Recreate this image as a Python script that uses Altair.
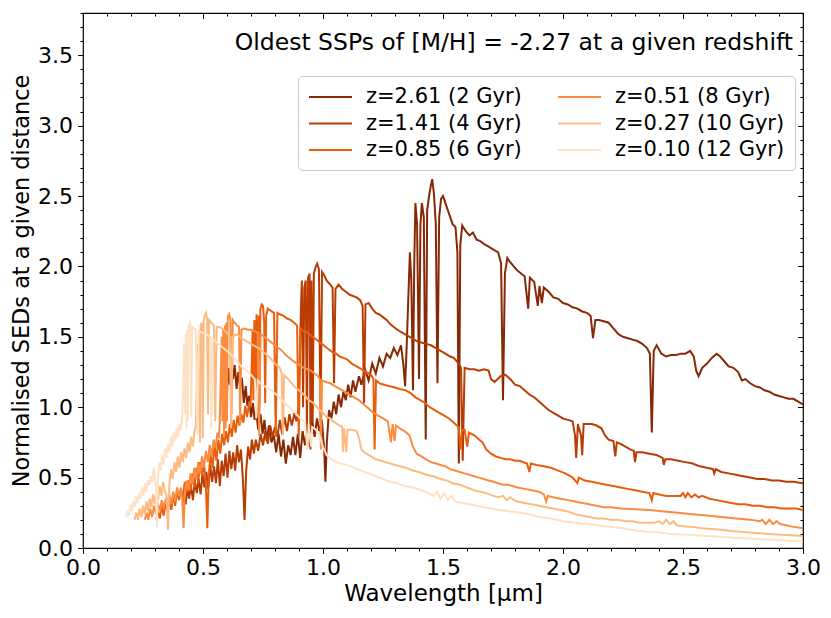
import altair as alt
import pandas as pd

# ---------------- data ----------------
LABELS = ["z=2.61 (2 Gyr)", "z=1.41 (4 Gyr)", "z=0.85 (6 Gyr)",
          "z=0.51 (8 Gyr)", "z=0.27 (10 Gyr)", "z=0.10 (12 Gyr)"]
COLORS = ["#862904", "#b93d02", "#e95e0d", "#fa8c41", "#fdbb81", "#fee2c5"]

LAM_261 = [0.600,0.605,0.612,0.618,0.625,0.632,0.640,0.647,0.655,0.662,0.670,0.678,0.685,0.692,0.700,0.708,0.715,0.722,0.730,0.740,
           0.748,0.756,0.765,0.775,0.785,0.795,0.805,0.815,0.825,0.835,0.845,0.855,0.865,0.875,0.885,0.895,0.905,0.915,0.925,0.935,
           0.945,0.955,0.965,0.975,0.985,0.995,1.005,1.010,1.016,1.025,1.035,1.045,1.055,1.065,1.075,1.085,1.095,1.105,1.115,1.125,
           1.135,1.150,1.160,1.175,1.190,1.205,1.220,1.235,1.250,1.265,1.280,1.295,1.310,1.325,1.335,1.342,1.348,1.355,1.362,1.368,
           1.375,1.380,1.385,1.392,1.400,1.406,1.412,1.420,1.428,1.434,1.442,1.450,1.455,1.462,1.470,1.477,1.484,1.492,1.500,1.510,
           1.520,1.530,1.540,1.552,1.560,1.566,1.572,1.580,1.595,1.610,1.625,1.640,1.655,1.670,1.690,1.710,1.730,1.742,1.750,1.758,
           1.768,1.780,1.795,1.810,1.825,1.840,1.855,1.862,1.880,1.895,1.902,1.912,1.920,1.940,1.960,1.980,2.000,2.020,2.040,2.060,
           2.080,2.100,2.115,2.125,2.135,2.150,2.170,2.190,2.210,2.230,2.250,2.270,2.290,2.310,2.330,2.350,2.362,2.370,2.378,2.390,
           2.410,2.430,2.450,2.470,2.490,2.510,2.530,2.545,2.555,2.565,2.580,2.600,2.620,2.640,2.655,2.670,2.690,2.710,2.730,2.745,
           2.760,2.780,2.800,2.820,2.840,2.860,2.880,2.900,2.920,2.940,2.960,2.980,3.000]
F_261 = [1.10,1.28,1.16,1.33,1.20,1.30,1.13,1.25,1.14,1.21,1.03,1.15,1.01,1.08,0.93,1.03,0.91,0.97,0.84,0.95,
         0.81,0.91,0.76,0.87,0.75,0.80,0.68,0.81,0.65,0.77,0.60,0.73,0.66,0.79,0.66,0.81,0.64,0.83,0.73,0.87,
         0.72,0.91,0.79,0.92,0.83,0.91,0.70,0.47,0.75,0.98,0.92,1.04,0.95,1.09,1.00,1.11,1.05,1.16,1.07,1.19,
         1.11,1.22,1.16,1.27,1.19,1.31,1.24,1.35,1.29,1.38,1.35,1.42,1.37,1.44,1.30,1.15,1.40,1.75,2.10,1.90,
         1.12,2.00,2.45,2.30,1.20,2.30,2.45,2.35,0.77,2.40,2.50,2.58,2.62,2.52,2.30,1.17,2.35,2.48,2.50,2.45,
         2.40,2.35,2.30,2.28,2.10,0.60,2.15,2.29,2.25,2.22,2.24,2.19,2.18,2.16,2.14,2.12,2.10,2.02,1.05,1.95,
         2.06,2.03,2.00,1.97,1.95,1.93,1.70,1.92,1.89,1.72,1.86,1.74,1.85,1.82,1.78,1.77,1.74,1.73,1.71,1.70,
         1.68,1.67,1.65,1.49,1.62,1.62,1.61,1.60,1.56,1.52,1.50,1.49,1.48,1.47,1.45,1.42,1.38,0.82,1.40,1.44,
         1.38,1.36,1.37,1.37,1.38,1.38,1.40,1.36,1.26,1.22,1.28,1.31,1.35,1.38,1.36,1.33,1.29,1.28,1.25,1.19,
         1.20,1.17,1.15,1.14,1.12,1.11,1.09,1.08,1.07,1.06,1.06,1.04,1.02]

LAM_141 = [0.415,0.420,0.428,0.435,0.442,0.450,0.458,0.466,0.474,0.482,0.490,0.498,0.506,0.514,0.522,0.530,0.538,0.546,0.554,0.562,
           0.570,0.578,0.586,0.594,0.602,0.610,0.618,0.626,0.634,0.642,0.650,0.658,0.666,0.673,0.680,0.688,0.696,0.704,0.712,0.720,
           0.730,0.740,0.750,0.760,0.770,0.780,0.790,0.800,0.810,0.820,0.830,0.840,0.850,0.860,0.870,0.880,0.890,0.898,0.903,0.908,
           0.912,0.917,0.922,0.928,0.933,0.938,0.944,0.948,0.952,0.957,0.962,0.970,0.976,0.983,0.990,0.996,1.004,1.015,1.030,1.040,
           1.046,1.052,1.065,1.080,1.095,1.110,1.125,1.140,1.155,1.165,1.171,1.177,1.190,1.205,1.220,1.235,1.250,1.265,1.280,1.295,
           1.310,1.330,1.350,1.370,1.390,1.410,1.430,1.450,1.470,1.490,1.510,1.530,1.545,1.560,1.575,1.582,1.590,1.610,1.630,1.650,
           1.670,1.690,1.700,1.715,1.740,1.760,1.780,1.800,1.820,1.840,1.860,1.880,1.900,1.920,1.940,1.960,1.980,2.000,2.020,2.040,
           2.050,2.055,2.062,2.075,2.080,2.086,2.100,2.120,2.140,2.160,2.175,2.190,2.210,2.218,2.224,2.240,2.260,2.280,2.295,2.300,
           2.306,2.330,2.360,2.390,2.415,2.420,2.426,2.450,2.480,2.510,2.540,2.570,2.600,2.625,2.630,2.636,2.660,2.690,2.720,2.750,
           2.780,2.810,2.840,2.870,2.900,2.930,2.960,3.000]
F_141 = [0.30,0.38,0.31,0.43,0.35,0.44,0.34,0.48,0.39,0.49,0.38,0.53,0.43,0.54,0.42,0.59,0.47,0.58,0.46,0.63,
         0.44,0.62,0.51,0.67,0.50,0.69,0.56,0.68,0.55,0.73,0.61,0.70,0.50,0.20,0.55,0.72,0.63,0.77,0.67,0.77,
         0.69,0.81,0.73,0.83,0.74,0.87,0.79,0.86,0.79,0.91,0.81,0.93,0.83,0.95,0.87,0.95,0.90,1.00,1.30,1.70,
         1.90,1.00,1.85,1.90,0.85,1.92,1.95,0.70,1.90,0.90,1.95,2.00,2.02,1.98,0.89,1.96,1.94,1.90,1.87,1.85,
         1.17,1.84,1.87,1.84,1.82,1.80,1.79,1.78,1.76,1.72,1.03,1.73,1.74,1.70,1.67,1.66,1.64,1.62,1.59,1.57,
         1.55,1.53,1.51,1.49,1.47,1.46,1.45,1.44,1.42,1.40,1.38,1.36,1.35,1.32,1.28,0.62,1.28,1.27,1.27,1.26,
         1.27,1.26,1.20,1.18,1.22,1.23,1.20,1.16,1.15,1.12,1.09,1.07,1.04,1.01,0.98,0.96,0.94,0.92,0.91,0.90,
         0.80,0.64,0.88,0.80,0.66,0.88,0.88,0.88,0.87,0.85,0.80,0.77,0.76,0.65,0.75,0.74,0.72,0.70,0.69,0.61,
         0.68,0.68,0.67,0.66,0.64,0.59,0.63,0.63,0.62,0.61,0.60,0.58,0.57,0.56,0.53,0.56,0.54,0.53,0.52,0.51,
         0.50,0.49,0.49,0.48,0.48,0.47,0.47,0.46]

LAM_085 = [0.305,0.312,0.320,0.328,0.336,0.344,0.352,0.360,0.368,0.376,0.384,0.392,0.400,0.408,0.416,0.424,0.432,0.440,0.448,0.456,
           0.464,0.472,0.480,0.488,0.496,0.504,0.512,0.518,0.524,0.532,0.540,0.548,0.556,0.564,0.572,0.580,0.588,0.596,0.604,0.612,
           0.620,0.628,0.636,0.644,0.652,0.660,0.668,0.676,0.684,0.692,0.698,0.703,0.707,0.710,0.714,0.719,0.723,0.728,0.732,0.735,
           0.739,0.745,0.750,0.755,0.759,0.763,0.770,0.786,0.796,0.803,0.810,0.820,0.835,0.850,0.865,0.880,0.892,0.899,0.906,0.920,
           0.935,0.950,0.965,0.980,0.995,1.010,1.025,1.040,1.055,1.070,1.085,1.100,1.120,1.140,1.160,1.180,1.200,1.210,1.215,1.221,
           1.235,1.255,1.275,1.300,1.320,1.345,1.365,1.385,1.405,1.425,1.445,1.465,1.485,1.505,1.525,1.545,1.565,1.573,1.580,1.590,
           1.601,1.608,1.630,1.650,1.665,1.680,1.700,1.720,1.740,1.760,1.780,1.800,1.820,1.850,1.860,1.866,1.890,1.920,1.950,1.980,
           2.010,2.040,2.060,2.066,2.090,2.120,2.150,2.180,2.210,2.240,2.270,2.300,2.330,2.360,2.370,2.376,2.400,2.430,2.460,2.490,
           2.500,2.510,2.520,2.535,2.550,2.565,2.580,2.610,2.640,2.670,2.700,2.730,2.760,2.790,2.820,2.850,2.880,2.910,2.940,2.970,3.000]
F_085 = [0.20,0.26,0.21,0.30,0.23,0.31,0.27,0.33,0.27,0.38,0.30,0.41,0.34,0.42,0.35,0.47,0.39,0.48,0.41,0.53,
         0.43,0.57,0.46,0.61,0.51,0.61,0.45,0.14,0.52,0.67,0.57,0.73,0.62,0.77,0.67,0.81,0.73,0.83,0.75,0.88,
         0.79,0.91,0.82,0.94,0.87,0.95,0.89,1.01,0.93,1.04,1.00,1.30,1.55,1.05,1.62,1.10,1.66,0.95,1.65,1.00,
         1.70,1.73,1.72,1.60,1.03,1.65,1.70,1.68,1.67,0.79,1.67,1.66,1.65,1.63,1.62,1.60,1.58,0.79,1.56,1.54,
         1.53,1.51,1.49,1.47,1.45,1.43,1.41,1.39,1.38,1.36,1.35,1.34,1.31,1.29,1.27,1.25,1.23,1.20,0.70,1.19,
         1.17,1.16,1.15,1.14,1.13,1.12,1.10,1.07,1.05,1.03,1.00,0.98,0.96,0.94,0.92,0.89,0.86,0.70,0.84,0.84,
         0.72,0.82,0.80,0.77,0.75,0.70,0.67,0.65,0.64,0.63,0.63,0.62,0.62,0.60,0.54,0.60,0.59,0.58,0.57,0.55,
         0.53,0.50,0.46,0.50,0.48,0.47,0.46,0.45,0.44,0.43,0.42,0.41,0.40,0.39,0.34,0.39,0.38,0.37,0.37,0.37,
         0.39,0.36,0.39,0.36,0.38,0.36,0.37,0.35,0.34,0.33,0.32,0.31,0.31,0.30,0.30,0.29,0.29,0.28,0.28,0.28,0.27]

LAM_051 = [0.258,0.265,0.272,0.280,0.288,0.296,0.304,0.312,0.320,0.328,0.336,0.344,0.352,0.360,0.368,0.376,0.384,0.392,0.400,0.408,
           0.414,0.419,0.424,0.432,0.440,0.448,0.456,0.464,0.472,0.480,0.488,0.496,0.504,0.512,0.520,0.528,0.536,0.544,0.552,0.560,
           0.566,0.570,0.574,0.578,0.581,0.584,0.588,0.591,0.594,0.597,0.600,0.603,0.609,0.614,0.619,0.624,0.632,0.642,0.650,0.655,
           0.660,0.672,0.685,0.700,0.715,0.728,0.734,0.740,0.755,0.770,0.785,0.800,0.815,0.830,0.845,0.860,0.875,0.890,0.905,0.920,
           0.935,0.950,0.965,0.980,0.987,0.991,0.996,1.010,1.030,1.050,1.070,1.090,1.110,1.130,1.150,1.170,1.190,1.210,1.230,1.250,
           1.270,1.283,1.290,1.298,1.304,1.320,1.340,1.360,1.375,1.390,1.410,1.430,1.450,1.470,1.490,1.510,1.530,1.550,1.570,1.590,
           1.610,1.630,1.650,1.670,1.690,1.710,1.730,1.750,1.770,1.790,1.810,1.840,1.870,1.900,1.920,1.930,1.936,1.960,1.990,2.020,
           2.050,2.080,2.110,2.140,2.170,2.200,2.240,2.300,2.360,2.420,2.480,2.540,2.600,2.660,2.720,2.780,2.820,2.830,2.845,2.860,
           2.875,2.890,2.905,2.920,2.960,3.000]
F_051 = [0.20,0.25,0.20,0.28,0.22,0.30,0.24,0.32,0.26,0.34,0.29,0.34,0.31,0.38,0.31,0.40,0.33,0.43,0.37,0.43,
         0.34,0.14,0.38,0.48,0.41,0.53,0.45,0.57,0.49,0.61,0.53,0.65,0.57,0.69,0.61,0.73,0.65,0.77,0.71,0.82,
         0.78,0.90,1.20,1.50,0.90,1.55,0.80,1.58,0.85,1.60,0.90,1.64,1.66,1.62,0.95,1.62,1.60,1.58,1.57,0.88,
         1.55,1.56,1.55,1.55,1.54,1.53,0.80,1.52,1.50,1.48,1.46,1.44,1.42,1.40,1.37,1.35,1.33,1.31,1.30,1.28,
         1.27,1.26,1.24,1.22,1.20,0.70,1.19,1.18,1.17,1.15,1.13,1.11,1.09,1.07,1.05,1.02,0.99,0.96,0.94,0.92,
         0.90,0.75,0.88,0.76,0.87,0.85,0.83,0.80,0.72,0.67,0.65,0.63,0.61,0.60,0.59,0.58,0.56,0.55,0.54,0.53,
         0.52,0.51,0.50,0.49,0.48,0.47,0.46,0.45,0.45,0.44,0.43,0.42,0.41,0.40,0.38,0.33,0.37,0.36,0.35,0.34,
         0.33,0.32,0.31,0.30,0.29,0.29,0.28,0.275,0.27,0.26,0.25,0.24,0.23,0.22,0.21,0.20,0.19,0.20,0.17,0.20,
         0.17,0.19,0.17,0.165,0.15,0.14]

LAM_027 = [0.215,0.222,0.229,0.236,0.243,0.250,0.257,0.264,0.271,0.278,0.285,0.292,0.299,0.306,0.313,0.320,0.327,0.334,0.341,0.348,
           0.354,0.360,0.367,0.374,0.381,0.388,0.395,0.402,0.409,0.416,0.423,0.430,0.437,0.444,0.451,0.458,0.465,0.470,0.474,0.478,
           0.481,0.484,0.487,0.490,0.495,0.499,0.503,0.508,0.513,0.517,0.521,0.525,0.535,0.545,0.551,0.557,0.570,0.585,0.600,0.612,
           0.617,0.623,0.640,0.660,0.680,0.700,0.720,0.740,0.760,0.780,0.800,0.820,0.828,0.833,0.838,0.855,0.870,0.885,0.900,0.920,
           0.940,0.960,0.980,1.000,1.015,1.030,1.050,1.070,1.080,1.083,1.088,1.097,1.102,1.120,1.140,1.150,1.160,1.180,1.200,1.220,
           1.240,1.260,1.280,1.300,1.320,1.345,1.375,1.400,1.430,1.460,1.490,1.515,1.540,1.570,1.600,1.630,1.655,1.680,1.710,1.730,
           1.750,1.765,1.780,1.795,1.810,1.840,1.870,1.900,1.930,1.960,1.990,2.020,2.050,2.080,2.110,2.140,2.170,2.200,2.230,2.260,
           2.290,2.320,2.350,2.380,2.400,2.415,2.430,2.445,2.460,2.475,2.500,2.540,2.580,2.620,2.660,2.700,2.740,2.780,2.820,2.860,
           2.900,2.950,3.000]
F_027 = [0.20,0.25,0.20,0.28,0.22,0.30,0.24,0.33,0.26,0.35,0.29,0.38,0.31,0.41,0.34,0.44,0.37,0.47,0.40,0.38,
         0.13,0.45,0.56,0.49,0.61,0.54,0.65,0.57,0.68,0.61,0.71,0.64,0.75,0.68,0.79,0.72,0.84,0.86,1.15,1.45,
         0.90,1.55,0.75,1.58,1.60,0.78,1.62,1.65,1.67,1.62,0.95,1.62,1.60,1.58,0.90,1.57,1.57,1.55,1.53,1.50,
         0.85,1.50,1.52,1.49,1.47,1.45,1.43,1.41,1.38,1.35,1.31,1.28,1.24,0.80,1.23,1.20,1.17,1.14,1.12,1.09,
         1.05,1.03,0.99,0.96,0.93,0.92,0.89,0.87,0.86,0.68,0.85,0.68,0.84,0.84,0.83,0.78,0.70,0.67,0.65,0.63,
         0.62,0.61,0.60,0.59,0.58,0.57,0.55,0.54,0.52,0.51,0.49,0.48,0.46,0.45,0.43,0.41,0.40,0.39,0.37,0.36,
         0.37,0.34,0.36,0.34,0.33,0.32,0.31,0.30,0.29,0.28,0.27,0.26,0.24,0.23,0.22,0.21,0.21,0.20,0.20,0.19,
         0.19,0.18,0.18,0.18,0.19,0.17,0.20,0.17,0.19,0.16,0.155,0.15,0.14,0.135,0.13,0.12,0.115,0.11,0.105,0.10,
         0.095,0.09,0.085]

LAM_010 = [0.180,0.186,0.192,0.198,0.204,0.210,0.216,0.222,0.228,0.234,0.240,0.246,0.252,0.258,0.264,0.270,0.276,0.282,0.288,0.294,
           0.300,0.304,0.308,0.312,0.318,0.324,0.330,0.336,0.342,0.348,0.354,0.360,0.366,0.372,0.378,0.384,0.390,0.396,0.402,0.408,
           0.414,0.418,0.422,0.425,0.428,0.431,0.434,0.437,0.440,0.444,0.448,0.451,0.455,0.462,0.470,0.477,0.483,0.495,0.510,0.520,
           0.530,0.535,0.540,0.555,0.570,0.585,0.600,0.620,0.640,0.660,0.680,0.700,0.716,0.722,0.728,0.745,0.765,0.785,0.805,0.825,
           0.845,0.865,0.885,0.905,0.925,0.935,0.940,0.950,0.955,0.970,0.985,1.000,1.015,1.035,1.055,1.075,1.100,1.130,1.160,1.190,
           1.220,1.250,1.280,1.310,1.340,1.375,1.410,1.440,1.460,1.475,1.490,1.505,1.520,1.535,1.550,1.580,1.610,1.640,1.670,1.700,
           1.740,1.780,1.820,1.860,1.900,1.950,2.000,2.050,2.100,2.150,2.200,2.250,2.300,2.350,2.400,2.450,2.500,2.550,2.600,2.650,
           2.700,2.750,2.800,2.850,2.900,2.950,3.000]
F_010 = [0.22,0.27,0.23,0.31,0.26,0.33,0.29,0.37,0.32,0.39,0.35,0.43,0.37,0.46,0.40,0.48,0.45,0.51,0.47,0.57,
         0.50,0.42,0.15,0.48,0.61,0.55,0.66,0.59,0.71,0.64,0.74,0.68,0.79,0.72,0.82,0.76,0.85,0.79,0.88,0.84,
         0.95,1.20,1.45,0.95,1.52,0.85,1.55,0.90,1.58,1.60,1.57,0.93,1.57,1.56,1.55,0.80,1.54,1.53,1.52,1.51,
         1.50,0.85,1.49,1.46,1.44,1.42,1.40,1.37,1.33,1.29,1.26,1.23,1.20,0.92,1.19,1.16,1.14,1.12,1.09,1.06,
         1.02,0.99,0.96,0.92,0.89,0.70,0.88,0.72,0.86,0.84,0.80,0.72,0.66,0.63,0.61,0.60,0.59,0.57,0.55,0.53,
         0.51,0.49,0.47,0.46,0.44,0.43,0.41,0.39,0.37,0.40,0.35,0.39,0.34,0.37,0.33,0.32,0.31,0.30,0.29,0.28,
         0.27,0.26,0.25,0.24,0.22,0.21,0.19,0.18,0.17,0.16,0.15,0.14,0.125,0.115,0.11,0.10,0.095,0.09,0.085,0.08,
         0.075,0.07,0.065,0.06,0.055,0.05,0.045]

SERIES = [(LAM_261, F_261), (LAM_141, F_141), (LAM_085, F_085),
          (LAM_051, F_051), (LAM_027, F_027), (LAM_010, F_010)]

X_TICKS = [round(i * 0.1, 1) for i in range(31)]
Y_TICKS = [round(i * 0.1, 1) for i in range(39)]
TITLE_TEXT = "Oldest SSPs of [M/H] = -2.27 at a given redshift"

# ---------------- build table ----------------
rows = []
for k, (lam, flx) in enumerate(SERIES):
    for l, f in zip(lam, flx):
        rows.append({"lam": l, "flux": f, "label": LABELS[k], "order": k})
df = pd.DataFrame(rows)

FONT = "DejaVu Sans"
MAJOR = "abs(datum.value*2 - round(datum.value*2)) < 1e-6"
LAB = f"({MAJOR}) ? format(datum.value, '.1f') : ''"

xscale = alt.Scale(domain=[0, 3.0], nice=False, zero=False)
yscale = alt.Scale(domain=[0, 3.8], nice=False, zero=False)

x_axis = alt.Axis(values=X_TICKS, labelExpr=LAB, tickSize={"expr": f"({MAJOR}) ? 5.5 : 3"},
                  labelFontSize=22, labelFont=FONT, labelColor="black", labelPadding=4,
                  labelFlush=False, labelOverlap=False, labelBound=False,
                  tickColor="black", tickWidth=1, domain=False, grid=False,
                  title="Wavelength [μm]", titleFont=FONT, titleFontSize=23,
                  titleFontWeight="normal", titleColor="black", titlePadding=4)
y_axis = alt.Axis(values=Y_TICKS, labelExpr=LAB, tickSize={"expr": f"({MAJOR}) ? 5.5 : 3"},
                  labelFontSize=22, labelFont=FONT, labelColor="black", labelPadding=5,
                  labelOverlap=False, labelBound=False, labelFlush=False,
                  tickColor="black", tickWidth=1, domain=False, grid=False,
                  title="Normalised SEDs at a given distance", titleFont=FONT, titleFontSize=22.4,
                  titleFontWeight="normal", titleColor="black", titlePadding=4)

lines = alt.Chart(df).mark_line(strokeWidth=2, clip=True).encode(
    x=alt.X("lam:Q", scale=xscale, axis=x_axis),
    y=alt.Y("flux:Q", scale=yscale, axis=y_axis),
    color=alt.Color("label:N",
                    scale=alt.Scale(domain=LABELS, range=COLORS),
                    legend=alt.Legend(orient="none", legendX=215, legendY=63, columns=2,
                                      title=None, symbolType="M-1,0H3.3", symbolSize=400,
                                      symbolStrokeWidth=2, labelFont=FONT, labelFontSize=21,
                                      labelColor="black", labelOffset=36, labelLimit=400,
                                      columnPadding=32, rowPadding=5.5, padding=10,
                                      strokeColor="#cccccc", cornerRadius=4,
                                      fillColor="rgba(255,255,255,0.8)")),
    detail="order:N",
    order="lam:Q",
)

top_x = alt.Axis(orient="top", values=X_TICKS, labels=False, domain=False, grid=False,
                 tickSize={"expr": f"({MAJOR}) ? -5.5 : -3"}, tickColor="black", tickWidth=1, title=None)
right_y = alt.Axis(orient="right", values=Y_TICKS, labels=False, domain=False, grid=False,
                   tickSize={"expr": f"({MAJOR}) ? -5.5 : -3"}, tickColor="black", tickWidth=1, title=None)

frame = alt.Chart(df).mark_point(opacity=0, size=1).encode(
    x=alt.X("lam:Q", scale=xscale, axis=top_x),
    y=alt.Y("flux:Q", scale=yscale, axis=right_y),
)

title_txt = alt.Chart(pd.DataFrame({"t": [TITLE_TEXT]})).mark_text(
    align="right", baseline="alphabetic", font=FONT, fontSize=23.5, color="black"
).encode(x=alt.value(710), y=alt.value(37), text="t:N")

chart = alt.layer(lines, frame, title_txt).resolve_axis(
    x="independent", y="independent"
).properties(
    width=720, height=535,
    autosize=alt.AutoSizeParams(type="none"),
    padding={"left": 75, "top": 5, "right": 20, "bottom": 62},
    background="white",
).configure_view(stroke="black", strokeWidth=1.2)

chart.save("out.html", embed_options={"renderer": "svg", "actions": False})
